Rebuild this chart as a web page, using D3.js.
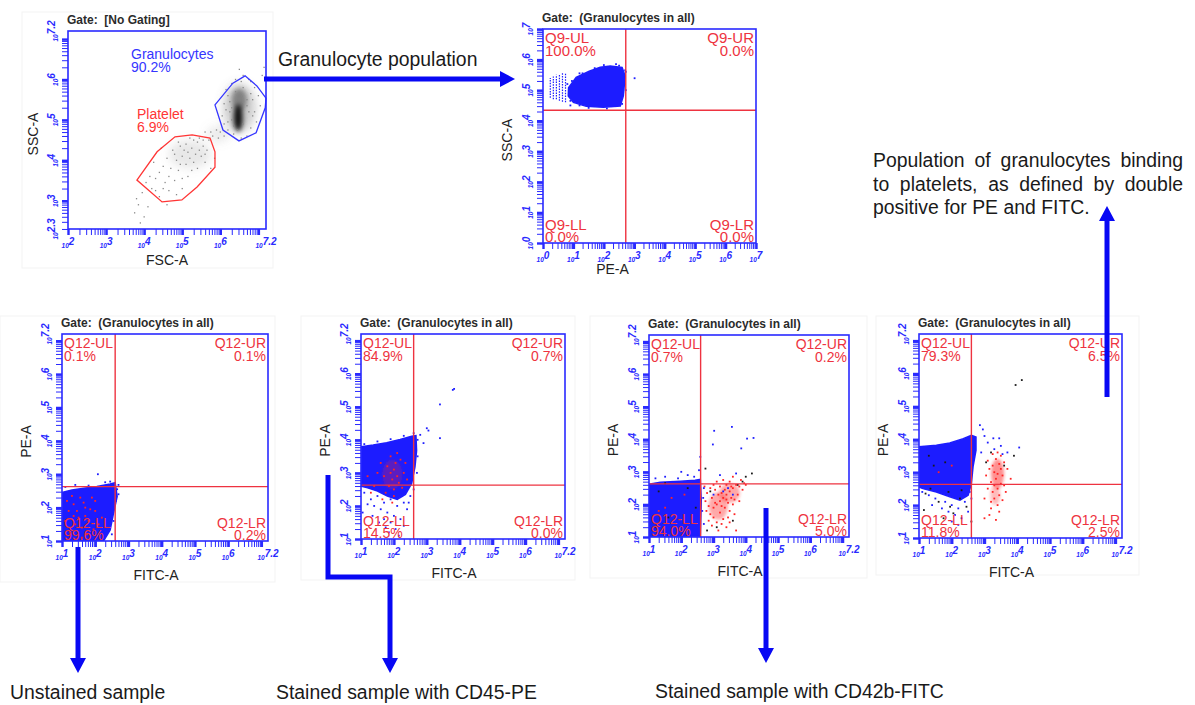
<!DOCTYPE html>
<html>
<head>
<meta charset="utf-8">
<script src="https://cdn.jsdelivr.net/npm/d3@7"></script>
<style>
  body { margin: 0; background: #fff; }
  svg { font-family: Arial, "Liberation Sans", sans-serif; }
  text { white-space: pre; }
</style>
</head>
<body>
<script>
// ---- data (all coordinates are log10 of the channel value) ----

const tlXTicks = [2, 3, 4, 5, 6, 7.2];
const tlYTicks = [2.3, 3, 4, 5, 6, 7.2];
const q9Ticks = [0, 1, 2, 3, 4, 5, 6, 7];
const q12Ticks = [1, 2, 3, 4, 5, 6, 7.2];

const gateNames = ["Granulocytes", "Platelet"];
const gatePcts = [90.2, 6.9];
const granGate = [[5.86,5.37],[6.33,5.91],[6.65,6.09],[6.96,5.84],[7.2,5.54],[7.18,5.3],[6.94,4.68],[6.49,4.48],[6.07,4.75]];
const plateletGate = [[3.81,3.51],[4.34,4.21],[4.81,4.58],[5.26,4.63],[5.73,4.55],[5.86,4.21],[5.86,3.83],[5.39,3.34],[4.99,3.02],[4.47,2.97]];

// density blobs of the FSC/SSC plot: cx, cy, spread x, spread y, density
const tlBlobs = [
  [5.2, 4.15, 0.55, 0.35, 0.1],
  [5.95, 4.65, 0.3, 0.2, 0.08],
  [6.5, 5.3, 0.42, 0.6, 0.3],
  [6.5, 5.5, 0.2, 0.28, 0.55],
  [6.47, 5.05, 0.12, 0.33, 1.0]
];
const tlDots = [[4.95,4.35],[5.1,4.4],[5.25,4.3],[5.4,4.45],[5.55,4.35],[5.35,4.15],[5.15,4.2],[5.0,4.1],[4.85,4.0],[5.5,4.1],[5.65,4.25],[5.7,4.5],[5.45,4.55],[5.2,4.55],[4.75,4.25],[4.6,4.05],[4.5,3.85],[4.4,3.7],[4.7,3.8],[4.9,3.75],[5.1,3.9],[5.3,3.95],[5.6,3.95],[5.0,3.55],[4.8,3.5],[4.55,3.45],[4.3,3.55],[4.2,3.3],[4.65,3.25],[4.4,3.1],[4.05,3.45],[3.95,3.2],[3.8,3.05],[3.75,2.7],[3.85,2.9],[4.1,2.85],[5.8,4.6],[5.9,4.75],[6.0,4.7],[6.1,4.9],[5.95,4.55],[6.2,4.75],[5.75,4.7],[5.6,4.7],[6.1,4.6],[4.25,3.95],[4.45,4.3],[5.85,4.05],[5.75,3.8],
  [5.05,4.25],[5.3,4.5],[4.9,4.45],[5.45,4.25],[5.2,4.05],[4.95,3.9],[5.55,4.5],[5.6,4.15],[4.8,4.15],[5.25,3.75],[4.65,3.6],[5.4,3.8],[5.0,3.3],[4.85,3.15],[4.5,3.3],[4.3,3.25],[4.15,3.6],[5.15,3.6],[4.6,2.9],[4.0,2.6],[3.9,2.45],
  [6.1,5.4],[6.2,5.6],[6.25,5.2],[6.3,5.9],[6.15,5.75],[6.4,6.0],[6.6,6.1],[6.75,6.0],[6.9,5.8],[7.0,5.6],[6.85,5.5],[6.9,5.2],[6.95,4.95],[6.8,4.8],[6.7,4.6],[6.55,4.55],[6.35,4.65],[6.2,4.95],[6.05,5.1],[6.8,5.95],[7.05,5.35],[7.1,6.1],[7.15,6.3],[6.5,6.25],
  [6.3,5.3],[6.4,5.7],[6.6,5.8],[6.7,5.5],[6.75,5.2],[6.6,4.9],[6.3,5.0],[6.35,4.85],[6.8,5.65],[6.55,5.95],[6.45,4.75],[6.7,5.35],[6.25,5.45],[6.85,5.1],[6.15,5.25]];

// granulocytes in all: PE-A vs SSC-A
const q9Gate = [2.72, 4.34];
const q9Names = ["Q9-UL", "Q9-UR", "Q9-LL", "Q9-LR"];
const q9Pcts = [100.0, 0.0, 0.0, 0.0];
const q9Cloud = [[0.84,5.08],[1.09,5.42],[1.52,5.62],[1.88,5.75],[2.21,5.79],[2.6,5.74],[2.7,5.46],[2.64,4.81],[2.54,4.48],[1.98,4.44],[1.42,4.47],[1.0,4.6],[0.83,4.81]];
const q9Stripes = [[0.24,4.75,5.4],[0.34,4.7,5.45],[0.44,4.7,5.5],[0.54,4.65,5.5],[0.64,4.62,5.55],[0.74,4.6,5.55]];
const q9Dots = [[3.01,5.39],[0.8,5.2],[0.9,4.5],[1.2,5.55],[2.72,5.6],[2.68,5.2],[2.4,5.85],[1.7,5.72],[2.1,4.4],[0.95,5.3],[1.3,5.55],[2.0,5.82],[2.5,5.8],[2.7,5.65],[2.72,5.0],[2.6,4.55],[1.5,4.42],[0.9,4.65],[1.2,4.5]];

// FITC-A vs PE-A, quadrant Q12
const q12Gate = [2.6, 2.63];
const q12Names = ["Q12-UL", "Q12-UR", "Q12-LL", "Q12-LR"];
const unstainedPcts = [0.1, 0.1, 99.6, 0.2];
const cd45Pcts = [84.9, 0.7, 14.5, 0.0];
const cd42bPcts = [0.7, 0.2, 94.0, 5.0];
const bothPcts = [79.3, 6.5, 11.8, 2.5];

const unstainedCloud = [[1.0,2.45],[1.3,2.53],[1.65,2.58],[2.05,2.63],[2.45,2.71],[2.6,2.75],[2.66,2.33],[2.55,1.83],[2.45,1.33],[2.25,1.0],[1.0,1.0]];
const unstainedBlue = [[2.08,3.0],[2.7,2.68],[2.66,2.55],[2.7,2.4],[2.62,2.2],[2.45,2.78],[1.1,2.62],[1.4,2.68],[2.3,2.76],[2.5,1.2],[1.8,2.66],[2.55,1.6]];
const unstainedRed = [[1.2,1.9],[1.35,2.1],[1.5,1.7],[1.7,2.0],[1.6,1.4],[1.8,1.6],[2.0,1.9],[1.9,2.3],[1.4,1.5],[1.25,1.25],[1.55,2.3],[2.1,1.5],[1.75,1.2],[1.3,2.35],[1.1,1.6],[1.65,2.15],[2.0,2.2],[1.45,1.9],[1.85,1.95],[1.15,2.2],[2.2,1.7],[1.6,1.1],[1.95,1.35],[1.35,1.75],[1.7,1.75]];

const cd45Cloud = [[1.0,3.79],[1.37,3.84],[1.78,3.91],[2.19,4.01],[2.54,4.11],[2.67,4.13],[2.69,3.68],[2.64,3.18],[2.54,2.68],[2.35,2.35],[2.1,2.2],[1.8,2.3],[1.5,2.45],[1.2,2.55],[1.0,2.6]];
const cd45Blue = [[1.1,2.4],[1.3,2.2],[1.5,2.3],[1.7,2.1],[1.9,2.2],[2.1,2.0],[2.3,2.1],[2.5,2.3],[1.6,1.9],[1.8,1.8],[2.0,1.7],[2.2,1.6],[1.9,1.5],[1.7,1.6],[2.4,1.9],[1.4,2.0],[1.2,2.05],[2.05,1.3],[1.85,1.2],[2.3,1.4],[1.55,1.5],[2.15,1.1],[1.75,1.35],[2.6,2.5],[2.45,2.1],[1.05,1.8],[1.35,1.7],[1.1,3.87],[1.5,3.95],[1.9,4.02],[2.3,4.12],[2.6,4.2],[2.72,4.0],[2.72,3.5],[2.7,3.0],[3.83,5.54],[3.79,5.51],[3.4,5.07],[3.0,4.35],[3.05,4.28],[3.4,4.05],[2.8,4.15],[2.9,3.9]];
const cd45Red = [[1.9,3.0],[2.0,3.1],[2.1,2.9],[1.95,2.8],[2.05,3.3],[1.8,3.2],[2.2,3.4],[1.7,2.9],[2.15,2.7],[1.85,2.6],[2.3,3.0],[1.6,3.3],[2.0,2.5],[1.9,3.5],[2.25,2.55],[1.75,2.4],[2.4,2.8],[1.5,3.0],[1.4,2.6],[2.1,3.6],[1.3,2.4],[2.0,2.3],[1.65,2.2],[2.35,3.3],[1.95,2.1],[1.2,2.9]];
const cd45RedBlobs = [[1.95, 2.95, 0.3, 0.45, 0.28]];

const cd42bCloud = [[1.0,2.62],[1.35,2.68],[1.97,2.71],[2.43,2.74],[2.59,2.77],[2.62,2.12],[2.59,1.0],[1.0,1.0]];
const cd42bBlue = [[1.2,2.8],[1.5,2.85],[1.9,2.8],[2.2,2.9],[2.4,2.85],[2.55,3.05],[2.59,3.46],[2.7,2.5],[2.68,2.2],[2.65,1.8],[2.7,1.4],[2.0,3.0],[3.3,2.4],[3.6,2.3],[3.0,2.3],[3.45,2.5],[3.02,4.26],[3.57,4.38],[2.98,3.84],[4.04,4.02],[4.24,4.04],[3.86,3.72],[3.7,2.95],[3.2,2.9]];
const cd42bBlack = [[1.3,2.4],[1.6,1.6],[1.2,1.3],[2.2,2.5],[2.45,1.9],[2.75,3.1],[4.19,2.95],[4.0,2.85],[3.9,2.7],[3.6,1.5],[3.1,1.3],[2.9,2.4],[3.75,2.6],[1.5,2.65],[2.8,1.2]];
const cd42bRed = [[3.3,2.2],[3.2,2.1],[3.4,2.3],[3.1,2.0],[3.5,2.4],[3.0,1.9],[3.6,2.5],[3.25,2.35],[3.45,2.05],[3.15,2.3],[3.35,1.9],[3.55,2.2],[2.95,2.2],[3.7,2.6],[3.05,2.45],[3.4,2.6],[3.8,2.55],[2.85,1.95],[3.2,1.75],[3.5,1.8],[3.0,1.6],[3.3,1.55],[2.9,1.7],[3.6,2.0],[3.65,1.7],[3.1,1.45],[3.4,1.3],[3.75,2.3],[3.85,2.75],[3.95,2.65],[2.8,2.35],[2.75,2.1],[3.2,2.55],[3.5,2.7],[3.3,2.75],[3.0,2.6],[2.9,2.5],[3.6,2.85],[3.7,1.2],[3.15,1.2],[2.85,1.5],[3.45,1.6],[1.7,2.2],[1.5,1.9],[2.1,2.3],[1.3,1.8],
  [2.78,1.8],[3.05,2.05],[3.25,1.95],[3.4,2.15],[3.55,2.55],[3.65,2.15],[3.9,2.45],[4.0,2.6],[2.72,2.55],[3.1,2.7],[3.35,2.45],[3.25,1.4],[3.5,1.45],[2.95,1.35],[3.8,2.1]];
const cd42bRedBlobs = [[3.15, 1.95, 0.3, 0.42, 0.4], [3.5, 2.35, 0.32, 0.3, 0.4]];

const bothCloud = [[1.0,3.77],[1.53,3.82],[1.94,3.89],[2.35,4.02],[2.6,4.12],[2.74,4.07],[2.74,3.66],[2.65,3.16],[2.6,2.65],[2.5,2.3],[2.25,2.15],[1.94,2.25],[1.53,2.4],[1.12,2.5],[1.0,2.55]];
const bothBlue = [[1.1,2.4],[1.3,2.3],[1.5,2.2],[1.8,2.1],[2.0,2.0],[2.2,1.9],[2.4,2.1],[2.55,2.4],[1.9,1.8],[2.1,1.7],[2.3,1.6],[2.0,1.5],[1.7,1.9],[2.5,1.8],[1.4,2.0],[2.2,1.4],[2.6,2.2],[2.86,4.43],[2.95,4.3],[3.27,4.03],[3.45,4.03],[4.06,3.75],[3.1,3.9],[3.5,3.8],[3.3,3.7],[2.9,3.6],[3.7,3.6],[3.0,4.1],[3.55,3.55]];
const bothBlack = [[1.2,2.35],[1.6,2.1],[1.95,1.95],[2.25,2.2],[1.75,1.6],[2.05,1.75],[2.45,1.95],[1.35,2.5],[2.3,2.45],[1.15,1.85],[1.9,2.4],[1.45,3.2],[1.8,3.3],[1.3,3.5],[2.6,1.5],[3.95,5.65],[4.14,5.8],[3.2,3.6],[3.6,3.2],[3.9,3.5],[3.05,3.3]];
const bothRed = [[3.4,2.95],[3.3,3.0],[3.5,3.1],[3.35,2.8],[3.45,3.25],[3.25,3.2],[3.55,2.9],[3.3,2.6],[3.4,2.5],[3.2,2.7],[3.5,2.65],[3.6,3.3],[3.15,3.1],[3.35,3.4],[3.25,2.4],[3.45,2.3],[3.3,2.2],[3.2,1.9],[3.4,2.0],[3.1,2.5],[3.6,2.6],[3.7,3.1],[3.05,2.9],[3.5,3.5],[3.25,3.55],[3.15,1.7],[3.35,1.55],[3.0,2.2],[3.55,2.15],[3.8,2.8],[3.1,3.35],[3.4,3.6],[3.65,2.4],[3.2,2.1],[3.45,1.8],[3.0,1.6],[2.0,3.2],[1.6,3.0]];
const bothRedBlobs = [[3.4, 2.95, 0.2, 0.45, 0.5], [3.33, 2.3, 0.15, 0.3, 0.3]];

const sampleNames = ["Unstained sample", "Stained sample with CD45-PE", "Stained sample with CD42b-FITC"];
const topNote = "Granulocyte population";
const noteLines = ["Population of granulocytes binding", "to platelets, as defined by double", "positive for PE and FITC."];

// ---- drawing ----
const AXIS = "#2a2aff", QRED = "#ee3340", ARROW = "#0808f4";
const tone = { blue: "#1e1eff", red: "#ff2424", black: "#1b1b1b", gray: "#8a8a8a" };

const svg = d3.select("body").append("svg").attr("width", 1195).attr("height", 705);
const defs = svg.append("defs");
[["soft", 0.5], ["blur2", 1.6], ["blur3", 2.5], ["blur6", 5]].forEach(([id, s]) => {
  defs.append("filter").attr("id", id).attr("x", "-50%").attr("y", "-50%")
    .attr("width", "200%").attr("height", "200%")
    .append("feGaussianBlur").attr("stdDeviation", s);
});
defs.append("marker").attr("id", "head").attr("markerUnits", "userSpaceOnUse")
    .attr("viewBox", "0 -9 16 18").attr("refX", 0).attr("refY", 0)
    .attr("markerWidth", 16).attr("markerHeight", 18).attr("orient", "auto")
  .append("path").attr("d", "M0,-8L15,0L0,8Z").attr("fill", ARROW);

let clipId = 0;

function logTicks(d0, d1) {
  const out = [];
  for (let d = Math.floor(d0); d < Math.ceil(d1); d++)
    for (let k = 1; k <= 9; k++) {
      const v = d + Math.log10(k);
      if (v >= d0 - 1e-6 && v <= d1 + 1e-6) out.push(v);
    }
  return out;
}

function powLabel(sel, v) {
  sel.append("tspan").attr("font-size", 6.5).text("10");
  sel.append("tspan").attr("font-size", 10).attr("dy", -3).text(String(v));
}

function drawPanel(p) {
  const g = svg.append("g");
  const { L, T, R, B } = p.box;
  const x = d3.scaleLinear().domain(p.xDom).range([L, R]);
  const y = d3.scaleLinear().domain(p.yDom).range([B, T]);
  const line = d3.line().x(d => x(d[0])).y(d => y(d[1]));

  if (p.frame) {
    const [fx0, fy0, fx1, fy1] = p.frame;
    g.append("rect").attr("x", fx0).attr("y", fy0).attr("width", fx1 - fx0).attr("height", fy1 - fy0)
      .attr("fill", "none").attr("stroke", "#f3f3f3");
  }

  const id = "clip" + (clipId++);
  defs.append("clipPath").attr("id", id).append("rect")
    .attr("x", L).attr("y", T).attr("width", R - L).attr("height", B - T);
  const plot = g.append("g").attr("clip-path", `url(#${id})`);

  const ellipse = (b, fill, op, blur) => plot.append("ellipse")
    .attr("cx", x(b[0])).attr("cy", y(b[1]))
    .attr("rx", x(b[0] + b[2]) - x(b[0])).attr("ry", y(b[1]) - y(b[1] + b[3]))
    .attr("fill", fill).attr("fill-opacity", op).attr("filter", blur);

  (p.blobs || []).forEach(b => {
    ellipse(b, d3.interpolateRgb("#9a9a9a", "#000")(b[4]), 0.12 + 0.8 * b[4],
      b[4] > 0.5 ? "url(#blur3)" : "url(#blur6)");
  });

  (p.clouds || []).forEach(c => {
    plot.append("path").attr("d", line(c.pts) + "Z")
      .attr("fill", tone[c.tone]).attr("stroke", tone[c.tone]).attr("stroke-width", 1.5)
      .attr("filter", "url(#soft)");
  });

  (p.stripes || []).forEach(s => {
    plot.append("line").attr("x1", x(s[0])).attr("x2", x(s[0]))
      .attr("y1", y(s[1])).attr("y2", y(s[2]))
      .attr("stroke", tone.blue).attr("stroke-width", 1.2).attr("stroke-dasharray", "1.5,1.2");
  });

  (p.redBlobs || []).forEach(b => ellipse(b, tone.red, b[4], "url(#blur2)"));

  (p.dots || []).forEach(set => {
    const sz = set.size || 1.8;
    plot.append("g").selectAll("rect").data(set.pts).join("rect")
      .attr("x", d => x(d[0]) - sz / 2).attr("y", d => y(d[1]) - sz / 2)
      .attr("width", sz).attr("height", sz).attr("fill", tone[set.tone]);
  });

  (p.gates || []).forEach(gt => {
    g.append("path").attr("d", line(gt.pts) + "Z")
      .attr("fill", "none").attr("stroke", gt.color).attr("stroke-width", 1.3);
    g.append("text").attr("x", gt.lx).attr("y", gt.ly).attr("fill", gt.color).attr("font-size", 14)
      .call(t => {
        t.append("tspan").attr("x", gt.lx).text(gt.name);
        t.append("tspan").attr("x", gt.lx).attr("dy", 12.5).text(d3.format(".1f")(gt.pct) + "%");
      });
  });

  if (p.quad) {
    const [qx, qy] = p.quad.at;
    g.append("line").attr("x1", x(qx)).attr("x2", x(qx)).attr("y1", T).attr("y2", B)
      .attr("stroke", QRED).attr("stroke-width", 1.4);
    g.append("line").attr("x1", L).attr("x2", R).attr("y1", y(qy)).attr("y2", y(qy))
      .attr("stroke", QRED).attr("stroke-width", 1.4);
    const fs = p.quad.size;
    const spots = [[L + 2, T + 14, "start"], [R - 2, T + 14, "end"], [L + 2, B - 13.5, "start"], [R - 2, B - 13.5, "end"]];
    p.quad.names.forEach((n, i) => {
      const [tx, ty, an] = spots[i];
      const t = g.append("text").attr("x", tx).attr("y", ty).attr("text-anchor", an)
        .attr("fill", QRED).attr("font-size", fs);
      t.append("tspan").attr("x", tx).text(n);
      t.append("tspan").attr("x", tx).attr("dy", 12.6).text(d3.format(".1f")(p.quad.pcts[i]) + "%");
    });
  }

  g.append("rect").attr("x", L).attr("y", T).attr("width", R - L).attr("height", B - T)
    .attr("fill", "none").attr("stroke", AXIS).attr("stroke-width", 1.6);

  // ticks: minor log ticks and heavier decade ticks
  const styleAxis = (a, w) => { a.select(".domain").remove(); a.selectAll("line").attr("stroke", AXIS).attr("stroke-width", w); };
  const majX = d3.range(Math.ceil(p.xDom[0]), Math.floor(p.xDom[1]) + 1);
  const majY = d3.range(Math.ceil(p.yDom[0]), Math.floor(p.yDom[1]) + 1);
  g.append("g").attr("transform", `translate(0,${B})`)
    .call(d3.axisBottom(x).tickValues(logTicks(...p.xDom)).tickSize(6).tickFormat(""))
    .call(a => styleAxis(a, 1));
  g.append("g").attr("transform", `translate(0,${B})`)
    .call(d3.axisBottom(x).tickValues(majX).tickSize(6).tickFormat(""))
    .call(a => styleAxis(a, 2.4));
  g.append("g").attr("transform", `translate(${L},0)`)
    .call(d3.axisLeft(y).tickValues(logTicks(...p.yDom)).tickSize(6).tickFormat(""))
    .call(a => styleAxis(a, 1));
  g.append("g").attr("transform", `translate(${L},0)`)
    .call(d3.axisLeft(y).tickValues(majY).tickSize(6).tickFormat(""))
    .call(a => styleAxis(a, 2.4));

  p.xTicks.forEach(v => {
    g.append("text").attr("x", x(v)).attr("y", B + 19).attr("text-anchor", "middle")
      .attr("fill", AXIS).attr("font-weight", "bold").attr("font-style", "italic")
      .call(t => powLabel(t, v));
  });
  p.yTicks.forEach(v => {
    g.append("text").attr("transform", `translate(${L - 10},${y(v)}) rotate(-90)`).attr("text-anchor", "middle")
      .attr("fill", AXIS).attr("font-weight", "bold").attr("font-style", "italic")
      .call(t => powLabel(t, v));
  });

  g.append("text").attr("x", L - 1).attr("y", T - 7).attr("font-size", 12).attr("font-weight", "bold")
    .attr("fill", "#2b2b2b").text(p.title);
  g.append("text").attr("x", (L + R) / 2 + p.xTitleDx).attr("y", B + p.xTitleDy)
    .attr("text-anchor", "middle").attr("font-size", 14).attr("fill", "#222").text(p.xTitle);
  g.append("text").attr("transform", `translate(${L + p.yTitleDx},${(T + B) / 2 + 4}) rotate(-90)`)
    .attr("text-anchor", "middle").attr("font-size", 14).attr("fill", "#222").text(p.yTitle);
}

// FSC / SSC, no gating
drawPanel({
  box: { L: 68, T: 31, R: 266, B: 229 }, frame: [22, 12, 273, 268],
  xDom: [2, 7.2], yDom: [2.3, 7.2], xTicks: tlXTicks, yTicks: tlYTicks,
  title: "Gate:  [No Gating]", xTitle: "FSC-A", yTitle: "SSC-A",
  xTitleDx: 0, xTitleDy: 36, yTitleDx: -30,
  blobs: tlBlobs,
  dots: [{ pts: tlDots, tone: "gray", size: 1.3 }],
  gates: [
    { pts: granGate, color: "#3535ff", name: gateNames[0], pct: gatePcts[0], lx: 131, ly: 59 },
    { pts: plateletGate, color: "#ff3535", name: gateNames[1], pct: gatePcts[1], lx: 137, ly: 119 }
  ]
});

// PE-A / SSC-A of the granulocytes
drawPanel({
  box: { L: 543, T: 29, R: 756, B: 243 },
  xDom: [0, 7], yDom: [0, 7], xTicks: q9Ticks, yTicks: q9Ticks,
  title: "Gate:  (Granulocytes in all)", xTitle: "PE-A", yTitle: "SSC-A",
  xTitleDx: -37, xTitleDy: 31, yTitleDx: -31,
  clouds: [{ pts: q9Cloud, tone: "blue" }],
  stripes: q9Stripes,
  dots: [{ pts: q9Dots, tone: "blue" }],
  quad: { at: q9Gate, names: q9Names, pcts: q9Pcts, size: 15 }
});

const q12Base = {
  xDom: [1, 7.2], yDom: [1, 7.2], xTicks: q12Ticks, yTicks: q12Ticks,
  title: "Gate:  (Granulocytes in all)", xTitle: "FITC-A", yTitle: "PE-A",
  xTitleDx: -9, xTitleDy: 39, yTitleDx: -31
};

drawPanel(Object.assign({}, q12Base, {
  box: { L: 62, T: 334, R: 268, B: 541 }, frame: [0, 316, 275, 582],
  clouds: [{ pts: unstainedCloud, tone: "blue" }],
  dots: [{ pts: unstainedBlue, tone: "blue" }, { pts: unstainedRed, tone: "red" }],
  quad: { at: q12Gate, names: q12Names, pcts: unstainedPcts, size: 14 }
}));

drawPanel(Object.assign({}, q12Base, {
  box: { L: 361, T: 334, R: 565, B: 539 }, frame: [301, 316, 575, 580],
  clouds: [{ pts: cd45Cloud, tone: "blue" }],
  redBlobs: cd45RedBlobs,
  dots: [{ pts: cd45Blue, tone: "blue" }, { pts: cd45Red, tone: "red" }],
  quad: { at: q12Gate, names: q12Names, pcts: cd45Pcts, size: 14 }
}));

drawPanel(Object.assign({}, q12Base, {
  box: { L: 649, T: 335, R: 849, B: 537 }, frame: [590, 316, 867, 578],
  clouds: [{ pts: cd42bCloud, tone: "blue" }],
  redBlobs: cd42bRedBlobs,
  dots: [{ pts: cd42bBlack, tone: "black" }, { pts: cd42bRed, tone: "red" }, { pts: cd42bBlue, tone: "blue" }],
  quad: { at: q12Gate, names: q12Names, pcts: cd42bPcts, size: 14 }
}));

drawPanel(Object.assign({}, q12Base, {
  box: { L: 919, T: 334, R: 1122, B: 538 }, frame: [876, 316, 1139, 575],
  clouds: [{ pts: bothCloud, tone: "blue" }],
  redBlobs: bothRedBlobs,
  dots: [{ pts: bothBlue, tone: "blue" }, { pts: bothBlack, tone: "black" }, { pts: bothRed, tone: "red" }],
  quad: { at: q12Gate, names: q12Names, pcts: bothPcts, size: 14 }
}));

// ---- arrows and notes ----
const arrows = [
  "M264,79H500",
  "M1107,397V221",
  "M78,547V658",
  "M328,475V577H390V658",
  "M766,508V648"
];
svg.append("g").selectAll("path").data(arrows).join("path")
  .attr("d", d => d).attr("fill", "none").attr("stroke", ARROW).attr("stroke-width", 5)
  .attr("stroke-linejoin", "miter").attr("marker-end", "url(#head)");

const noteFont = 19.4;
svg.append("text").attr("x", 278).attr("y", 66).attr("font-size", noteFont).attr("fill", "#1a1a1a").text(topNote);

[[10, 699], [276, 699], [655, 698]].forEach(([tx, ty], i) => {
  svg.append("text").attr("x", tx).attr("y", ty).attr("font-size", noteFont).attr("fill", "#1a1a1a").text(sampleNames[i]);
});

noteLines.forEach((s, i) => {
  const t = svg.append("text").attr("x", 873).attr("y", 167 + i * 23.5)
    .attr("font-size", noteFont).attr("fill", "#1a1a1a").text(s);
  if (i < noteLines.length - 1) {
    const w = t.node().getComputedTextLength();
    const gaps = s.split(" ").length - 1;
    t.attr("word-spacing", (310 - w) / gaps);
  }
});
</script>
</body>
</html>
